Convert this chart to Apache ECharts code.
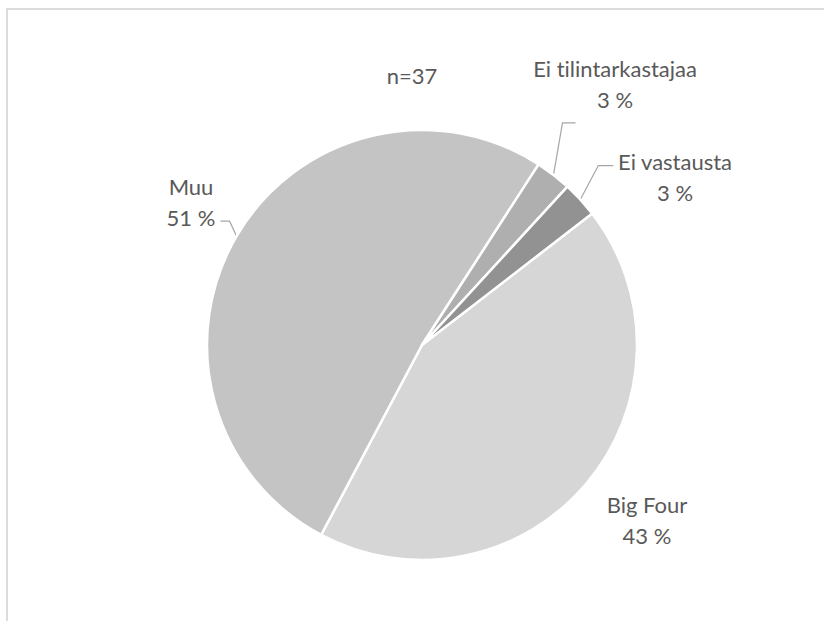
<!DOCTYPE html>
<html>
<head>
<meta charset="utf-8">
<script src="https://cdn.jsdelivr.net/npm/echarts@6/dist/echarts.min.js"></script>
<style>
  html, body { margin: 0; padding: 0; background: #fff; }
  #chart { width: 824px; height: 621px; }
  #chart text { font-variant-ligatures: none; }
</style>
</head>
<body>
<div id="chart"></div>
<script>
// Tilintarkastajan tausta (n=37)
const categories = ['Big Four', 'Muu', 'Ei tilintarkastajaa', 'Ei vastausta'];
const counts = [16, 19, 1, 1];
const sampleLabel = 'n=37';

const sliceColors = ['#d6d6d6', '#c4c4c4', '#afafaf', '#929292'];
const textColor = '#595959';
const fontFamily = 'Lato, "Open Sans", sans-serif';

// Label centres; leader lines bend at an offset from the slice edge
const labelPlacement = [
  { x: 647, y: 520 },
  { x: 191, y: 202, elbow: [-7, -15], tail: -9 },
  { x: 615, y: 84, elbow: [9, -52], tail: 13 },
  { x: 675, y: 177, elbow: [18, -34], tail: 15 }
];

const chart = echarts.init(document.getElementById('chart'), null, { renderer: 'svg' });

chart.setOption({
  animation: false,
  backgroundColor: '#ffffff',
  title: {
    text: sampleLabel,
    left: 'center',
    top: 59,
    textStyle: { color: textColor, fontFamily: fontFamily, fontSize: 22, fontWeight: 'normal' }
  },
  graphic: [{
    type: 'rect',
    z: -10,
    shape: { x: 7, y: 9, width: 900, height: 700 },
    style: { fill: 'none', stroke: '#dcdcdc', lineWidth: 2 }
  }],
  series: [{
    type: 'pie',
    center: [422, 345],
    radius: 215,
    startAngle: 37.7,
    clockwise: true,
    percentPrecision: 0,
    itemStyle: { borderColor: '#ffffff', borderWidth: 2.5 },
    label: {
      show: true,
      position: 'outside',
      formatter: '{b}\n{d} %',
      color: textColor,
      fontFamily: fontFamily,
      fontSize: 22,
      lineHeight: 31,
      align: 'center'
    },
    labelLine: {
      show: true,
      length: 15,
      length2: 10,
      lineStyle: { color: '#a6a6a6', width: 1.2 }
    },
    labelLayout: function (params) {
      const p = labelPlacement[params.dataIndex];
      const out = { x: p.x, y: p.y, align: 'center', verticalAlign: 'middle' };
      if (p.elbow && params.labelLinePoints) {
        const a = params.labelLinePoints[0];
        const e = [a[0] + p.elbow[0], a[1] + p.elbow[1]];
        out.labelLinePoints = [a, e, [e[0] + p.tail, e[1]]];
      }
      return out;
    },
    emphasis: { disabled: true },
    data: categories.map(function (name, i) {
      return {
        name: name,
        value: counts[i],
        itemStyle: { color: sliceColors[i] },
        labelLine: { show: !!labelPlacement[i].elbow }
      };
    })
  }]
});
</script>
</body>
</html>
